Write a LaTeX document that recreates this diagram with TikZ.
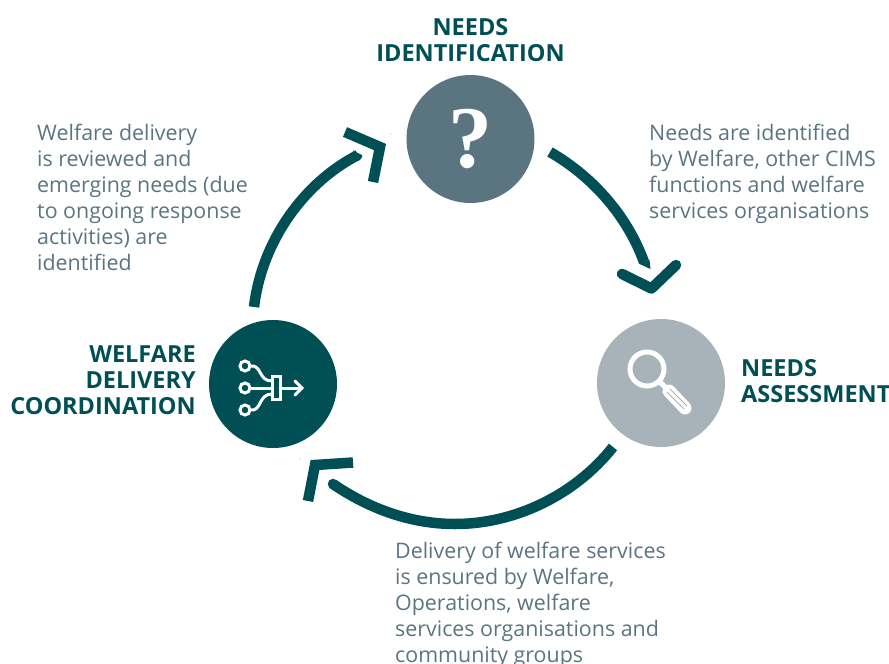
\documentclass[tikz,border=0pt]{standalone}
\usepackage{fontspec}
\setmainfont{Open Sans}
\definecolor{teal}{HTML}{004F55}
\definecolor{slate}{HTML}{5A7580}
\definecolor{mist}{HTML}{A8B3B9}
\definecolor{bodyc}{HTML}{5A7580}
\tikzset{
 hub/.style={circle,minimum size=128pt,inner sep=0pt,fill=#1},
 head/.style={text=teal,font=\fontsize{23.5}{26}\selectfont\bfseries,inner sep=0pt,align=#1},
 body/.style={text=bodyc,font=\fontsize{21.4}{26}\selectfont,inner sep=0pt,align=left,anchor=north west},
 shaft/.style={draw=teal,line width=10.5pt},
 chevron/.style={draw=teal,line width=10.5pt,line join=miter},
 icon/.style={draw=white,line width=3pt,line cap=round}
}
\begin{document}
\begin{tikzpicture}[x=1pt,y=-1pt]
\useasboundingbox (0,0) rectangle (889,664);
% hubs
\node[hub=slate] (top) at (470.5,139) {};
\node[hub=mist] (right) at (661,383) {};
\node[hub=teal] (left) at (273,384) {};
% question mark
\node[text=white,inner sep=0pt,font=\fontspec{Liberation Serif}\bfseries\fontsize{88}{88}\selectfont] (q) at (470.5,139) {?};
% headings
\node[head=center,anchor=north] (h1) at (470.5,18) {NEEDS\\IDENTIFICATION};
\node[head=left,anchor=north west] (h2) at (741,359.5) {NEEDS\\ASSESSMENT};
\node[head=right,anchor=north east] (h3) at (196,345.5) {WELFARE\\DELIVERY\\COORDINATION};
% body text
\node[body] (t1) at (649,123.5) {Needs are identified\\by Welfare, other CIMS\\functions and welfare\\services organisations};
\node[body] (t2) at (37,123.5) {Welfare delivery\\is reviewed and\\emerging needs (due\\to ongoing response\\activities) are\\identified};
\node[body] (t3) at (395,541.5) {Delivery of welfare services\\is ensured by Welfare,\\Operations, welfare\\services organisations and\\community groups};
% arc end points
\coordinate (a1s) at (550,152);
\coordinate (a1e) at (644,262);
\coordinate (a2s) at (613,447);
\coordinate (a2e) at (333,484);
\coordinate (a3s) at (254,307);
\coordinate (a3e) at (358,155);
% shafts
\draw[shaft] (a1s) .. controls (595,178) and (628,218) .. (a1e);
\fill[teal] (638.5,263.5) -- (649.5,260) -- (650.5,269) -- cycle;
\draw[shaft] (a2s) .. controls (575,495) and (515,524) .. (455,524) .. controls (410,524) and (368,508) .. (a2e);
\fill[teal] (a2e) circle (5.25pt);
\draw[shaft] (a3s) .. controls (262,240) and (305,182) .. (a3e);
\fill[teal] (353,150.5) -- (362,155) -- (362,157.5) -- (358,161) -- cycle;
% chevrons
\draw[chevron,line join=round,line cap=round] (622,274) -- (651.5,288.5) -- (676,265);
\draw[chevron] (353,462.5) -- (315,465) -- (308,501);
\draw[chevron] (345,132) -- (380,147) -- (373,182);
% specks
\fill[mist] (391,134) circle (.6pt) (648,304) circle (.6pt) (300,459) circle (.6pt);
% network icon
\draw[icon] (245,366) circle (5pt) (245,388) circle (5pt) (245,410) circle (5pt);
\draw[icon,line cap=butt] (272,376) rectangle (280,399);
\draw[icon] (250,388) -- (272,388);
\draw[icon] (280,388) -- (301,388);
\draw[icon] (295,381) -- (302,388) -- (295,395);
\draw[icon] (250,366) .. controls (262,364) and (258,381) .. (272,381);
\draw[icon] (250,410) .. controls (262,412) and (258,394) .. (272,394);
% magnifier icon
\draw[draw=white,line width=5pt] (647,369) circle (17pt);
\draw[draw=white,line width=5pt] (660,382) -- (666,388);
\draw[draw=white,line width=13pt,line cap=round] (669,391) -- (685,408);
\draw[draw=mist,line width=1pt] (670,389) -- (687,406) (667,392) -- (684,409);
\end{tikzpicture}
\end{document}
